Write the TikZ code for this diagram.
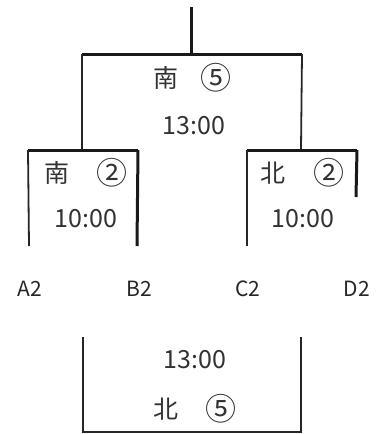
\documentclass[tikz,border=0pt]{standalone}
\usepackage{fontspec}
\setmainfont{Noto Sans CJK JP}
\begin{document}
\begin{tikzpicture}[x=1pt,y=-1pt,
  thick line/.style={line width=3pt,black!90},
  thin line/.style={line width=1.8pt,black!85},
  txt/.style={inner sep=0pt,text=black!80,font=\fontsize{25}{25}\selectfont},
  circ/.style={inner sep=0pt,text=black!80,font=\fontsize{31}{31}\selectfont},
  lbl/.style={inner sep=0pt,text=black!85,font=\fontsize{21}{21}\selectfont}]
\useasboundingbox (0,0) rectangle (384,434);
% coordinates
\coordinate (top) at (191,7);
\coordinate (tj) at (191,54);
\coordinate (tl) at (82,54);
\coordinate (tr) at (302,54);
\coordinate (tlb) at (82,150);
\coordinate (trb) at (301,150);
\coordinate (l1) at (28,150);
\coordinate (l2) at (138,150);
\coordinate (l1b) at (29,246);
\coordinate (l2b) at (137,246);
\coordinate (r1) at (247,150);
\coordinate (r2) at (357,150);
\coordinate (r1b) at (247,246);
\coordinate (r2b) at (356,197);
\coordinate (b1) at (83,337);
\coordinate (b2) at (301,337);
\coordinate (b1b) at (83,432);
\coordinate (b2b) at (301,432);
% lines
\draw[thick line] (top) -- (tj);
\draw[thick line] (tl) -- (tr);
\draw[thin line] (tl) -- (tlb);
\draw[thin line] (tr) -- (trb);
\draw[thick line] (l1) -- (l2);
\draw[thin line] (l1) -- (l1b);
\draw[thick line] (l2) -- (l2b);
\draw[thick line] (r1) -- (r2);
\draw[thin line] (r1) -- (r1b);
\draw[thick line] (r2) -- (r2b);
\draw[thin line] (b1) -- (b1b) -- (b2b) -- (b2);
% texts
\node[txt] (f1a) at (166,78) {南};
\node[circ] (f1b) at (216,78) {⑤};
\node[txt] (f1t) at (194,126) {13:00};
\node[txt] (sla) at (57,173) {南};
\node[circ] (slb) at (112,173) {②};
\node[txt] (slt) at (86,219) {10:00};
\node[txt] (sra) at (273,173) {北};
\node[circ] (srb) at (329,173) {②};
\node[txt] (srt) at (303,219) {10:00};
\node[lbl] (A) at (30,289) {A2};
\node[lbl] (B) at (139,289) {B2};
\node[lbl] (C) at (248,289) {C2};
\node[lbl] (D) at (357,289) {D2};
\node[txt] (f2t) at (195,360) {13:00};
\node[txt] (f2a) at (166,409) {北};
\node[circ] (f2b) at (221,409) {⑤};
\end{tikzpicture}
\end{document}
